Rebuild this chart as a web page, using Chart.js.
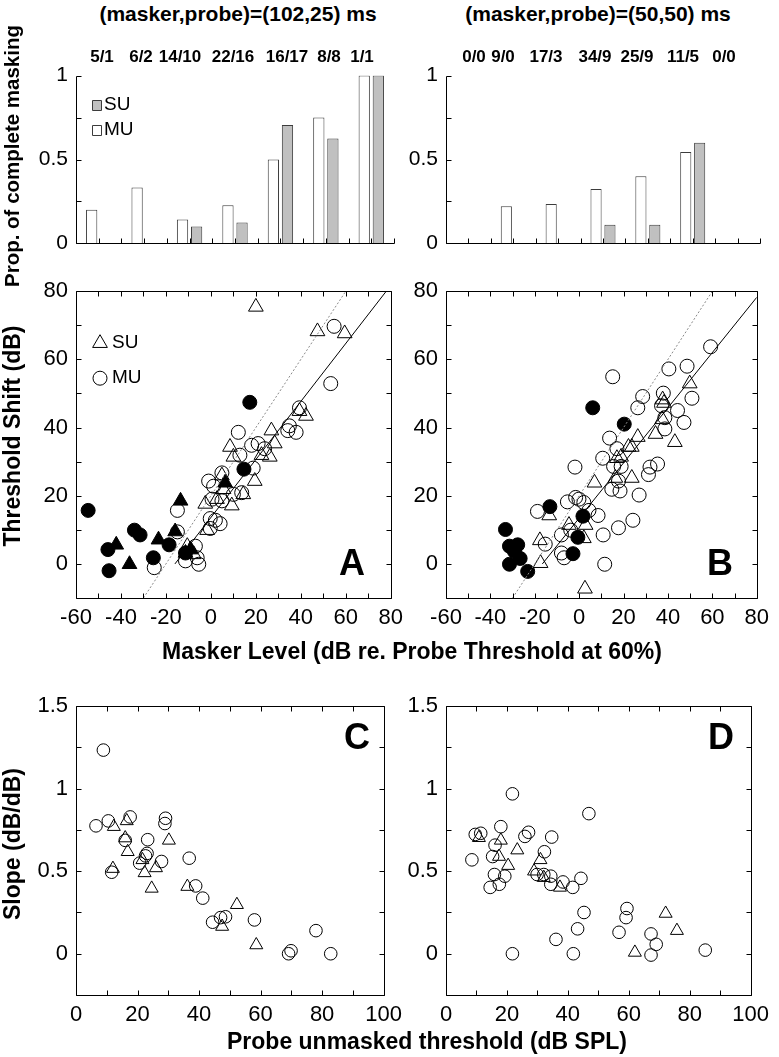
<!DOCTYPE html>
<html>
<head>
<meta charset="utf-8">
<script src="https://cdn.jsdelivr.net/npm/chart.js@4.4.0/dist/chart.umd.min.js"></script>
<style>
  body { margin: 0; background: #fff; width: 779px; height: 1057px; position: relative; overflow: hidden;
         font-family: "Liberation Sans", Arial, Helvetica, sans-serif; }
  .panel { position: absolute; }
  .txt { position: absolute; white-space: nowrap; color: #000; font-weight: bold; transform: translate(-50%, -50%); }
  .vert { transform: translate(-50%, -50%) rotate(-90deg); }
</style>
</head>
<body>

<div class="panel" id="pBarL"><canvas id="barL"></canvas></div>
<div class="panel" id="pBarR"><canvas id="barR"></canvas></div>
<div class="panel" id="pA"><canvas id="chA"></canvas></div>
<div class="panel" id="pB"><canvas id="chB"></canvas></div>
<div class="panel" id="pC"><canvas id="chC"></canvas></div>
<div class="panel" id="pD"><canvas id="chD"></canvas></div>

<div class="txt" style="left:238px;top:14px;font-size:21px;">(masker,probe)=(102,25) ms</div>
<div class="txt" style="left:598px;top:14px;font-size:21px;">(masker,probe)=(50,50) ms</div>
<div class="txt vert" style="left:12px;top:156px;font-size:20.5px;">Prop. of complete masking</div>
<div class="txt vert" style="left:12px;top:436px;font-size:23px;">Threshold Shift (dB)</div>
<div class="txt vert" style="left:12px;top:844px;font-size:23px;">Slope (dB/dB)</div>
<div class="txt" style="left:412px;top:651px;font-size:23px;">Masker Level (dB re. Probe Threshold at 60%)</div>
<div class="txt" style="left:427px;top:1041px;font-size:23px;">Probe unmasked threshold (dB SPL)</div>
<div class="txt" style="left:352px;top:563px;font-size:36px;">A</div>
<div class="txt" style="left:720px;top:563px;font-size:36px;">B</div>
<div class="txt" style="left:357px;top:737px;font-size:36px;">C</div>
<div class="txt" style="left:721px;top:737px;font-size:36px;">D</div>

<script>
const FONT = '"Liberation Sans", Arial, Helvetica, sans-serif';

// top bar panels: counts (MU/SU) and proportion of complete masking
const countsLeft = ['5/1', '6/2', '14/10', '22/16', '16/17', '8/8', '1/1'];
const muPropLeft = [0.2, 0.333, 0.143, 0.227, 0.5, 0.75, 1];
const suPropLeft = [null, null, 0.1, 0.125, 0.706, 0.625, 1];
const countsRight = ['0/0', '9/0', '17/3', '34/9', '25/9', '11/5', '0/0'];
const muPropRight = [null, 0.222, 0.235, 0.324, 0.4, 0.545, null];
const suPropRight = [null, null, null, 0.111, 0.111, 0.6, null];

// panel A: threshold shift vs masker level, (102,25) ms
const aSUOpen = [[20.0,75.4],[47.4,68.2],[59.5,67.6],[42.3,43.4],[39.4,44.8],[26.9,39.1],[28.4,35.3],[8.5,34.3],
  [10.0,31.4],[22.5,31.9],[26.2,31.4],[19.5,24.3],[4.9,25.9],[-2.5,17.6],[2.7,19.0],[9.3,17.1],[5.6,21.9],
  [-1.7,9.9],[-10.5,5.2],[-7.6,2.8],[14.4,20.4]];
const aMUOpen = [[12.2,38.6],[-1.0,24.3],[1.2,22.8],[4.9,26.7],[12.9,31.9],[18.1,34.8],[21.0,35.3],[23.9,33.8],
  [18.8,28.1],[13.7,20.9],[10.0,20.4],[4.9,18.5],[0.5,19.0],[-0.3,13.3],[2.0,12.8],[4.1,11.8],[-0.3,10.4],
  [-14.9,15.7],[-14.9,9.4],[-6.9,5.2],[-5.4,-0.1],[-11.3,0.9],[-25.2,-1.1],[-6.1,1.8],[34.2,39.1],[37.9,38.6],
  [34.9,40.5],[39.4,45.8],[53.3,52.9],[54.8,69.7]];
const aSUFill = [[-42.1,5.6],[-36.2,-0.1],[-13.5,18.5],[-23.3,7.1],[-15.9,9.5],[-11.3,3.2],[-9.0,4.2],[6.3,23.8]];
const aMUFill = [[-54.6,15.7],[-45.8,4.2],[-45.3,-2.0],[-34.0,9.9],[-31.5,8.5],[-25.6,1.8],[-18.6,5.6],
  [17.3,47.4],[14.7,27.8],[-11.3,3.2]];
const aFit = [[-16,0],[78,80]];
const aDiag = [[-30,-10],[60,80]];

// panel B: (50,50) ms
const bSUOpen = [[-17.7,6.9],[-17.4,0.2],[-13.5,14.2],[2.6,-7.3],[2.1,7.5],[2.9,11.4],[-4.6,11.4],[6.9,23.8],
  [16.3,25.2],[23.7,25.2],[18.9,31.4],[22.2,34.3],[23.7,34.3],[26.4,37.2],[34.4,38.1],[37.4,42.4],[37.6,48.2],
  [38.2,47.2],[43.1,35.7],[49.8,52.9],[17.0,31.0]];
const bMUOpen = [[59.2,63.7],[48.6,58.0],[40.4,57.2],[15.1,54.9],[28.6,49.1],[26.4,45.8],[37.9,50.1],[37.1,46.4],
  [50.8,48.6],[44.3,45.0],[47.2,41.5],[38.6,39.6],[38.6,42.9],[13.7,36.9],[17.0,33.8],[10.6,31.0],[15.5,28.6],
  [18.9,28.6],[14.7,21.9],[18.4,21.4],[17.7,24.3],[31.2,26.2],[31.9,28.4],[35.3,29.3],[27.0,20.2],[24.2,12.8],
  [17.7,10.6],[-1.9,28.4],[-5.3,18.2],[-1.6,19.5],[-0.1,19.0],[2.1,18.0],[4.4,15.7],[8.5,14.2],[10.8,8.5],
  [11.5,-0.1],[-18.8,15.4],[-15.3,5.8],[-8.0,8.5],[-8.0,3.2],[-6.8,1.8],[-3.8,9.9]];
const bSUFill = [];
const bMUFill = [[-33.2,10.1],[-31.4,5.2],[-27.7,5.6],[-29.2,3.7],[-26.6,1.6],[-31.4,-0.1],[-23.2,-2.2],
  [-13.2,16.8],[1.7,14.0],[-0.6,7.8],[-2.8,3.0],[6.1,45.8],[20.3,41.0]];
const bFit = [[-16.6,0],[80,78.2]];
const bDiag = [[-30,-10],[60,80]];

// panel C: slope vs probe unmasked threshold, (102,25) ms
const cMU = [[8.9,1.234],[6.5,0.775],[10.5,0.805],[17.6,0.829],[29.1,0.821],[28.9,0.789],[23.3,0.691],[16.0,0.687],
  [23.1,0.608],[22.6,0.593],[20.7,0.549],[27.8,0.559],[11.6,0.494],[36.8,0.579],[38.9,0.411],[41.2,0.337],
  [44.4,0.191],[47.0,0.219],[48.6,0.224],[58.0,0.205],[69.1,0.0],[69.9,0.018],[78.0,0.140],[82.8,0.0]];
const cSU = [[12.3,0.770],[16.5,0.805],[16.0,0.701],[16.8,0.618],[12.0,0.516],[21.6,0.569],[22.3,0.490],
  [26.0,0.520],[24.6,0.396],[30.2,0.687],[36.2,0.407],[52.3,0.297],[47.5,0.165],[58.6,0.053]];

// panel D: (50,50) ms
const dMU = [[8.5,0.569],[9.6,0.723],[11.4,0.730],[14.5,0.402],[15.3,0.589],[15.9,0.480],[16.1,0.658],[17.5,0.421],
  [18.0,0.770],[19.3,0.470],[21.8,0.969],[21.8,0.0],[25.9,0.711],[27.1,0.736],[32.3,0.618],[34.7,0.707],
  [29.9,0.480],[32.1,0.480],[34.4,0.470],[34.4,0.421],[38.4,0.435],[41.6,0.402],[44.3,0.457],[45.3,0.250],
  [43.2,0.151],[36.1,0.087],[41.8,0.0],[46.9,0.849],[56.8,0.130],[59.4,0.274],[59.1,0.219],[67.3,0.120],
  [69.0,0.057],[67.3,-0.008],[85.1,0.022]];
const dSU = [[10.8,0.703],[18.0,0.687],[23.4,0.628],[17.4,0.589],[20.4,0.534],[31.0,0.569],[28.9,0.500],
  [32.1,0.461],[37.4,0.402],[62.0,0.008],[72.1,0.244],[75.8,0.140]];

Chart.defaults.font.family = FONT;
Chart.defaults.color = '#000';
Chart.defaults.animation = false;

// box / axes with inward ticks, plus small in-axes legend
const framePlugin = {
  id: 'frame',
  afterDatasetsDraw(chart, args, opts) {
    const { ctx, chartArea: a, scales } = chart;
    const L = Math.round(a.left) + 0.5, R = Math.round(a.right) + 0.5;
    const T = Math.round(a.top) + 0.5, B = Math.round(a.bottom) + 0.5;
    const tl = 5;
    ctx.save();
    ctx.strokeStyle = '#000';
    ctx.lineWidth = 1;
    ctx.beginPath();
    if (opts.box) {
      ctx.rect(L, T, R - L, B - T);
    } else {
      ctx.moveTo(L, T); ctx.lineTo(L, B); ctx.lineTo(R, B);
    }
    scales.y.ticks.forEach(t => {
      const py = Math.round(scales.y.getPixelForValue(t.value)) + 0.5;
      ctx.moveTo(L, py); ctx.lineTo(L + tl, py);
      if (opts.box) { ctx.moveTo(R, py); ctx.lineTo(R - tl, py); }
    });
    let xs;
    if (opts.minorX) {
      xs = [];
      for (let i = 0; i <= opts.minorX; i++) xs.push(a.left + i * (a.right - a.left) / opts.minorX);
    } else {
      xs = scales.x.ticks.map(t => scales.x.getPixelForValue(t.value));
    }
    xs.forEach(px => {
      px = Math.round(px) + 0.5;
      ctx.moveTo(px, B); ctx.lineTo(px, B - tl);
      if (opts.box) { ctx.moveTo(px, T); ctx.lineTo(px, T + tl); }
    });
    ctx.stroke();

    (opts.legend || []).forEach(item => {
      const x = a.left + item.x, y = a.top + item.y;
      ctx.beginPath();
      if (item.shape === 'rect') {
        ctx.rect(Math.round(x - 4.5) + 0.5, Math.round(y - 5) + 0.5, 9, 10);
      } else if (item.shape === 'circle') {
        ctx.arc(x, y, 7, 0, Math.PI * 2);
      } else {
        const r = 8.5;
        ctx.moveTo(x, y - r);
        ctx.lineTo(x + r * 0.866, y + r / 2);
        ctx.lineTo(x - r * 0.866, y + r / 2);
        ctx.closePath();
      }
      ctx.fillStyle = item.fill;
      ctx.fill();
      ctx.strokeStyle = item.stroke || '#000';
      ctx.stroke();
      ctx.fillStyle = '#000';
      ctx.font = '19px ' + FONT;
      ctx.textBaseline = 'middle';
      ctx.fillText(item.label, a.left + item.tx, y);
    });
    ctx.restore();
  }
};
Chart.register(framePlugin);

function place(id, f, pad) {
  const el = document.getElementById(id);
  el.style.left = (f.l - pad.l) + 'px';
  el.style.top = (f.t - pad.t) + 'px';
  el.style.width = (f.r - f.l + pad.l + pad.r) + 'px';
  el.style.height = (f.b - f.t + pad.t + pad.b) + 'px';
}

function pts(arr) {
  return arr.map(p => ({ x: p[0], y: p[1] }));
}

// count labels above the bar groups, spread like the original
function countLabels(counts, xs, y) {
  counts.forEach((c, i) => {
    const d = document.createElement('div');
    d.className = 'txt';
    d.style.left = xs[i] + 'px';
    d.style.top = y + 'px';
    d.style.fontSize = '17px';
    d.textContent = c;
    document.body.appendChild(d);
  });
}

function barChart(canvasId, counts, mu, su, legend) {
  return new Chart(document.getElementById(canvasId), {
    type: 'bar',
    data: {
      labels: counts,
      datasets: [
        { label: 'MU', data: mu, backgroundColor: '#ffffff', borderColor: '#3c3c3c', borderWidth: 1,
          categoryPercentage: 0.62, barPercentage: 0.8 },
        { label: 'SU', data: su, backgroundColor: '#c0c0c0', borderColor: '#3c3c3c', borderWidth: 1,
          categoryPercentage: 0.62, barPercentage: 0.8 }
      ]
    },
    options: {
      responsive: true,
      maintainAspectRatio: false,
      layout: { autoPadding: false, padding: { top: 14, right: 12, bottom: 8, left: 0 } },
      plugins: {
        legend: { display: false },
        tooltip: { enabled: false },
        frame: { box: false, minorX: 14, legend: legend }
      },
      scales: {
        x: { type: 'category', display: false, offset: true },
        y: {
          min: 0, max: 1,
          grid: { display: false, drawTicks: false }, border: { display: false },
          ticks: {
            stepSize: 0.25, padding: 8, font: { size: 21 }, autoSkip: false,
            callback: v => (v === 0 || v === 0.5 || v === 1) ? String(v) : ''
          },
          afterFit: s => { s.width = 60; }
        }
      }
    }
  });
}

function scatterSet(data, shape, filled, r) {
  return {
    data: pts(data),
    pointStyle: shape,
    pointRadius: r,
    pointHoverRadius: r,
    borderWidth: 1,
    borderColor: '#000',
    backgroundColor: filled ? '#000' : 'rgba(0,0,0,0)'
  };
}

function lineSet(data, dashed) {
  return {
    type: 'line',
    data: pts(data),
    showLine: true,
    pointRadius: 0,
    borderWidth: 1,
    borderColor: dashed ? '#8a8a8a' : '#000',
    borderDash: dashed ? [2, 2] : [],
    fill: false
  };
}

function scatterChart(canvasId, datasets, xr, yr, legend) {
  return new Chart(document.getElementById(canvasId), {
    type: 'scatter',
    data: { datasets: datasets },
    options: {
      responsive: true,
      maintainAspectRatio: false,
      layout: { autoPadding: false, padding: { top: 14, right: 16, bottom: 0, left: 0 } },
      plugins: {
        legend: { display: false },
        tooltip: { enabled: false },
        frame: { box: true, legend: legend }
      },
      scales: {
        x: {
          type: 'linear', min: xr[0], max: xr[1],
          grid: { display: false, drawTicks: false }, border: { display: false },
          ticks: {
            stepSize: xr[2], padding: 7, font: { size: 22 }, autoSkip: false, maxRotation: 0,
            callback: v => (Math.abs(v % xr[3]) < 1e-9) ? String(v) : ''
          },
          afterFit: s => { s.height = 40; }
        },
        y: {
          type: 'linear', min: yr[0], max: yr[1],
          grid: { display: false, drawTicks: false }, border: { display: false },
          ticks: {
            stepSize: yr[2], padding: 8, font: { size: 22 }, autoSkip: false,
            callback: v => (v >= 0 && Math.abs(v / yr[3] - Math.round(v / yr[3])) < 1e-9) ? String(+v.toFixed(2)) : ''
          },
          afterFit: s => { s.width = 60; }
        }
      }
    }
  });
}

// frames in page pixels
const fBarL = { l: 76, r: 394, t: 69, b: 256 };
const fBarR = { l: 446, r: 760, t: 69, b: 256 };
const fA = { l: 76, r: 394, t: 284, b: 598 };
const fB = { l: 446, r: 760, t: 284, b: 598 };
const fC = { l: 76, r: 393, t: 699, b: 995 };
const fD = { l: 446, r: 760, t: 699, b: 995 };

const barPad = { l: 60, t: 14, r: 12, b: 8 };
const scPad = { l: 60, t: 14, r: 16, b: 40 };
place('pBarL', fBarL, barPad);
place('pBarR', fBarR, barPad);
place('pA', fA, scPad);
place('pB', fB, scPad);
place('pC', fC, scPad);
place('pD', fD, scPad);

countLabels(countsLeft, [102, 141, 180, 233, 287, 329, 362], 57);
countLabels(countsRight, [474, 503, 546, 595, 637, 683, 724], 57);

barChart('barL', countsLeft, muPropLeft, suPropLeft, [
  { shape: 'rect', fill: '#c0c0c0', stroke: '#3c3c3c', x: 20, y: 29, tx: 28, label: 'SU' },
  { shape: 'rect', fill: '#ffffff', stroke: '#3c3c3c', x: 20, y: 54, tx: 28, label: 'MU' }
]);
barChart('barR', countsRight, muPropRight, suPropRight, []);

const dbX = [-60, 80, 10, 20];
const dbY = [-10, 80, 10, 20];
scatterChart('chA', [
  lineSet(aDiag, true), lineSet(aFit, false),
  scatterSet(aSUOpen, 'triangle', false, 8.5), scatterSet(aMUOpen, 'circle', false, 7),
  scatterSet(aSUFill, 'triangle', true, 8.5), scatterSet(aMUFill, 'circle', true, 7)
], dbX, dbY, [
  { shape: 'triangle', fill: 'rgba(0,0,0,0)', x: 24, y: 52, tx: 36, label: 'SU' },
  { shape: 'circle', fill: 'rgba(0,0,0,0)', x: 24, y: 87, tx: 36, label: 'MU' }
]);
scatterChart('chB', [
  lineSet(bDiag, true), lineSet(bFit, false),
  scatterSet(bSUOpen, 'triangle', false, 8.5), scatterSet(bMUOpen, 'circle', false, 7),
  scatterSet(bSUFill, 'triangle', true, 8.5), scatterSet(bMUFill, 'circle', true, 7)
], dbX, dbY, []);

const thrX = [0, 100, 10, 20];
const slopeY = [-0.25, 1.5, 0.25, 0.5];
scatterChart('chC', [
  scatterSet(cSU, 'triangle', false, 7.5), scatterSet(cMU, 'circle', false, 6.3)
], thrX, slopeY, []);
scatterChart('chD', [
  scatterSet(dSU, 'triangle', false, 7.5), scatterSet(dMU, 'circle', false, 6.3)
], thrX, slopeY, []);
</script>
</body>
</html>
